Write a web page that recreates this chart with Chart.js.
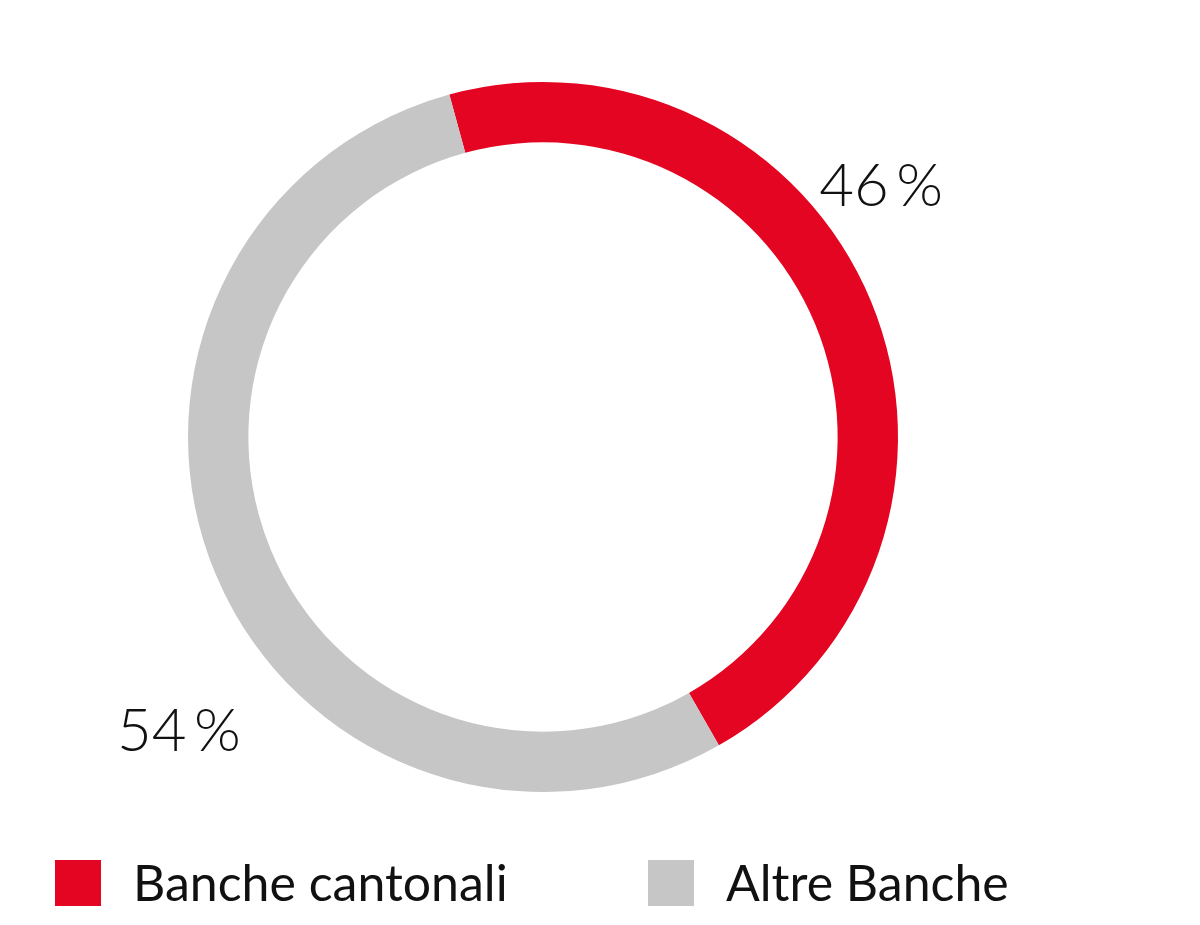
<!DOCTYPE html>
<html>
<head>
<meta charset="utf-8">
<script src="https://cdn.jsdelivr.net/npm/chart.js@4"></script>
<style>
  html, body { margin: 0; padding: 0; background: #fff; }
  canvas { display: block; }
</style>
</head>
<body>
<canvas id="shareChart" width="1200" height="925"></canvas>
<script>
const categories = ['Banche cantonali', 'Altre Banche'];
const shares = [46, 54];
const shareLabels = ['46\u2009%', '54\u2009%'];
const colors = ['#E30521', '#C6C6C6'];

const fontFamily = 'Lato, "Open Sans", sans-serif';

// percentage labels placed around the ring, relative to the arc geometry
const pctLabels = {
    id: 'pctLabels',
    afterDatasetsDraw(chart) {
        const ctx = chart.ctx;
        const meta = chart.getDatasetMeta(0);
        // angle offset (deg from top, clockwise) and distance as share of outer radius
        const spots = [[53.5, 1.185], [231, 1.32]];
        ctx.save();
        ctx.fillStyle = '#111';
        ctx.font = '300 60px ' + fontFamily;
        ctx.textAlign = 'center';
        ctx.textBaseline = 'middle';
        meta.data.forEach((arc, i) => {
            const a = (spots[i][0] - 90) * Math.PI / 180;
            const r = arc.outerRadius * spots[i][1];
            ctx.fillText(shareLabels[i], arc.x + r * Math.cos(a), arc.y + r * Math.sin(a));
        });
        ctx.restore();
    }
};

// legend row along the bottom
const bottomLegend = {
    id: 'bottomLegend',
    afterDraw(chart) {
        const ctx = chart.ctx;
        const starts = [55, 648];
        const y = 860, box = 46;
        ctx.save();
        ctx.font = '400 50px ' + fontFamily;
        ctx.textBaseline = 'middle';
        ctx.textAlign = 'left';
        chart.data.labels.forEach((label, i) => {
            ctx.fillStyle = chart.data.datasets[0].backgroundColor[i];
            ctx.fillRect(starts[i], y, box, box);
            ctx.fillStyle = '#111';
            ctx.fillText(label, starts[i] + 78, y + box / 2 + 2);
        });
        ctx.restore();
    }
};

new Chart(document.getElementById('shareChart'), {
    type: 'doughnut',
    data: {
        labels: categories,
        datasets: [{
            data: shares,
            backgroundColor: colors,
            borderWidth: 0
        }]
    },
    options: {
        responsive: false,
        devicePixelRatio: 1,
        animation: false,
        cutout: '83%',
        rotation: -15.3,
        layout: {
            padding: { left: 188, right: 302, top: 82, bottom: 133 }
        },
        plugins: {
            legend: { display: false },
            tooltip: { enabled: false }
        }
    },
    plugins: [pctLabels, bottomLegend]
});
</script>
</body>
</html>
